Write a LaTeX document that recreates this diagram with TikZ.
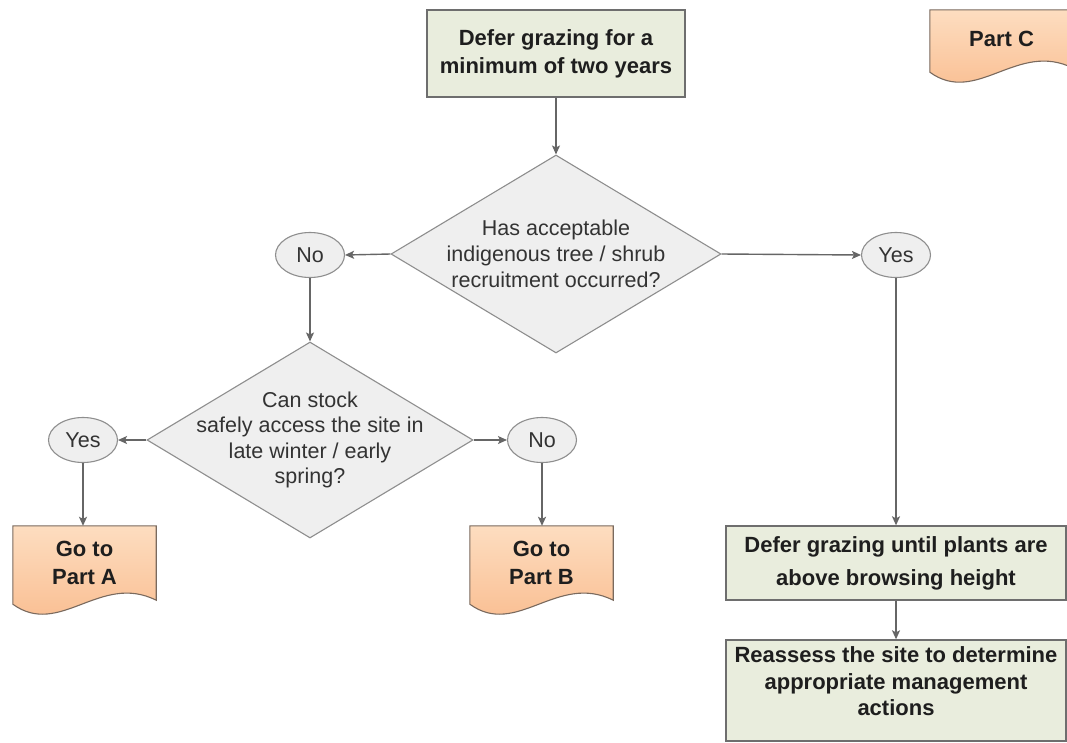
\documentclass[tikz,border=0pt]{standalone}
\usepackage{fontspec}
\setmainfont{Liberation Sans}
\usetikzlibrary{shapes.geometric,arrows.meta}
\pgfdeclarelayer{background}
\pgfsetlayers{background,main}
\definecolor{boxfill}{HTML}{E9EDDD}
\definecolor{boxline}{HTML}{6E6E6E}
\definecolor{decfill}{HTML}{EFEFEF}
\definecolor{decline}{HTML}{8E8E8E}
\definecolor{arrline}{HTML}{666666}
\definecolor{orangetop}{HTML}{FDDDC0}
\definecolor{orangebot}{HTML}{F9B98A}
\definecolor{docline}{HTML}{7A6A5E}
\definecolor{txt}{HTML}{1E1E1E}
\definecolor{rtxt}{HTML}{333333}
\newcommand\docshape[1]{%
  \draw[docdraw] (#1.north west) -- (#1.north east) -- (#1.south east)
    .. controls ([shift={(-56,-28)}]#1.south east) and ([shift={(47,38)}]#1.south west)
    .. ([shift={(0,4)}]#1.south west) -- cycle;}
\begin{document}
\begin{tikzpicture}[x=1pt,y=-1pt,
  gbox/.style={draw=boxline, line width=1.4pt, fill=boxfill, rectangle, inner sep=0pt,
    align=center, text=txt, font=\fontsize{22}{28}\selectfont\bfseries},
  dec/.style={draw=decline, line width=1.1pt, fill=decfill, diamond, inner sep=0pt,
    minimum width=330, minimum height=198},
  dectext/.style={align=center, text=rtxt, font=\fontsize{21.5}{26}\selectfont, inner sep=0pt},
  oval/.style={draw=decline, line width=1.1pt, fill=decfill, ellipse, inner sep=0pt,
    minimum width=69, minimum height=45, text=rtxt, font=\fontsize{21.5}{26}\selectfont},
  docnode/.style={rectangle, inner sep=0pt, minimum width=143, minimum height=74,
    align=center, text=txt, font=\fontsize{22}{28}\selectfont\bfseries},
  docdraw/.style={draw=docline, line width=1.1pt, top color=orangetop, bottom color=orangebot},
  arr/.style={draw=arrline, line width=1.4pt, -{Stealth[length=9pt,width=8pt,inset=2pt]}}
]
\useasboundingbox (0,0) rectangle (1067,742);

% nodes
\node[gbox, minimum width=258, minimum height=87] (top) at (556,53.5) {Defer grazing for a\\minimum of two years};
\node[dec, label={[dectext]center:{Has acceptable\\indigenous tree / shrub\\recruitment occurred?}}] (d1) at (556,254) {};
\node[oval] (no1) at (310,255) {No};
\node[oval] (yes1) at (896,255) {Yes};
\node[dec, minimum width=326, minimum height=196,
  label={[dectext, font=\fontsize{21.5}{25.5}\selectfont]center:{Can stock\\safely access the site in\\late winter / early\\spring?}}] (d2) at (310,440) {};
\node[oval] (yes2) at (83,440) {Yes};
\node[oval] (no2) at (542,440) {No};
\node[docnode] (pa) at (84.5,563) {Go to\\Part A};
\node[docnode] (pb) at (541.5,563) {Go to\\Part B};
\node[docnode, minimum height=58] (pc) at (1001.5,39) {Part C};
\node[gbox, minimum width=340, minimum height=74, font=\fontsize{22}{33}\selectfont\bfseries] (g1) at (896,563) {Defer grazing until plants are\\above browsing height};
\node[gbox, minimum width=340, minimum height=101, font=\fontsize{22}{26.5}\selectfont\bfseries] (g2) at (896,690.5) {Reassess the site to determine\\appropriate management\\actions\\[-8pt]\mbox{}};

\begin{pgfonlayer}{background}
  \fill[white] (0,0) rectangle (1067,742);
  \begin{scope}
    \clip (0,0) rectangle (1067,742);
    \docshape{pa}
    \docshape{pb}
    \docshape{pc}
  \end{scope}
\end{pgfonlayer}

% connectors
\draw[arr] (top.south) -- (d1.north);
\draw[arr] (d1.west) -- (no1.east);
\draw[arr] (d1.east) -- (yes1.west);
\draw[arr] (no1.south) -- (d2.north);
\draw[arr] (d2.west) -- (yes2.east);
\draw[arr] (d2.east) -- (no2.west);
\draw[arr] (yes2.south) -- (yes2.south |- pa.north);
\draw[arr] (no2.south) -- (no2.south |- pb.north);
\draw[arr] (yes1.south) -- (g1.north);
\draw[arr] (g1.south) -- (g2.north);
\end{tikzpicture}
\end{document}
